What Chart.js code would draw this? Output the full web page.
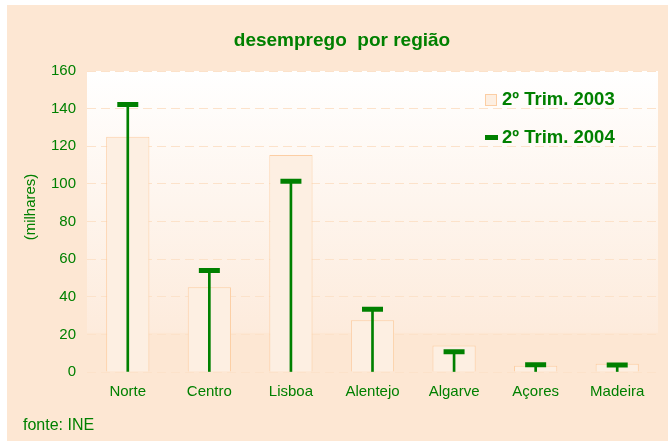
<!DOCTYPE html>
<html>
<head>
<meta charset="utf-8">
<script src="https://cdn.jsdelivr.net/npm/chart.js@4.4.1/dist/chart.umd.min.js"></script>
<style>
html,body{margin:0;padding:0;background:#fff;}
#wrap{width:668px;height:441px;position:relative;}
</style>
</head>
<body>
<div id="wrap"><canvas id="c" width="668" height="441"></canvas></div>
<script>
const categories = ['Norte','Centro','Lisboa','Alentejo','Algarve','Açores','Madeira'];
const trim2003 = [125, 45, 115.3, 27.5, 14.1, 3.3, 4.4];
const trim2004 = [142.2, 54, 101.4, 33.4, 10.8, 3.8, 3.7];
const yTicks = [0, 20, 40, 60, 80, 100, 120, 140, 160];
const seriesNames = ['2º Trim. 2003', '2º Trim. 2004'];
const titleText = 'desemprego  por região';
const yTitle = '(milhares)';
const sourceText = 'fonte: INE';

const GREEN = '#008000';
const PEACH = 'rgb(253,231,211)';
const BAR_FILL = 'rgb(253,239,226)';
const BAR_BORDER = 'rgb(252,206,164)';
const FONT = '"Liberation Sans", Arial, sans-serif';

const decor = {
  id: 'decor',
  beforeDraw(chart) {
    const ctx = chart.ctx;
    const a = chart.chartArea;
    ctx.save();
    ctx.fillStyle = '#fff';
    ctx.fillRect(0, 0, chart.width, chart.height);
    ctx.fillStyle = PEACH;
    ctx.fillRect(7, 5, chart.width - 7, chart.height - 5);
    const bottom = a.top + (a.bottom - a.top) * 0.87;
    const g = ctx.createLinearGradient(0, a.top, 0, bottom);
    g.addColorStop(0, '#ffffff');
    g.addColorStop(1, 'rgb(253,235,220)');
    ctx.fillStyle = g;
    ctx.fillRect(a.left, a.top, a.right - a.left, bottom - a.top);
    ctx.restore();
  },
  afterDraw(chart) {
    const ctx = chart.ctx;
    ctx.save();
    ctx.fillStyle = GREEN;
    ctx.font = 'bold 19px ' + FONT;
    ctx.textAlign = 'center';
    ctx.textBaseline = 'middle';
    ctx.fillText(titleText, 342, 41);
    ctx.save();
    ctx.translate(31, 207);
    ctx.rotate(-Math.PI / 2);
    ctx.font = '15px ' + FONT;
    ctx.fillText(yTitle, 0, 0);
    ctx.restore();
    ctx.font = '16px ' + FONT;
    ctx.textAlign = 'left';
    ctx.fillText(sourceText, 23, 426);
    ctx.fillStyle = BAR_FILL;
    ctx.fillRect(485.5, 94.5, 11, 11);
    ctx.strokeStyle = BAR_BORDER;
    ctx.lineWidth = 1;
    ctx.strokeRect(485.5, 94.5, 11, 11);
    ctx.strokeStyle = GREEN;
    ctx.lineWidth = 5;
    ctx.beginPath();
    ctx.moveTo(485, 137.5);
    ctx.lineTo(498, 137.5);
    ctx.stroke();
    ctx.fillStyle = GREEN;
    ctx.font = 'bold 18.5px ' + FONT;
    ctx.fillText(seriesNames[0], 502, 100);
    ctx.fillText(seriesNames[1], 502, 137.5);
    ctx.restore();
  }
};

new Chart(document.getElementById('c'), {
  data: {
    labels: categories,
    datasets: [
      {
        type: 'line',
        label: seriesNames[1],
        data: trim2004,
        showLine: false,
        pointStyle: 'line',
        pointRadius: 10.5,
        pointHoverRadius: 10.5,
        pointBorderWidth: 5,
        pointHoverBorderWidth: 5,
        pointBorderColor: GREEN,
        pointBackgroundColor: GREEN,
        order: 0
      },
      {
        type: 'bar',
        label: 'stem',
        data: trim2004,
        backgroundColor: GREEN,
        barThickness: 2,
        grouped: false,
        order: 1
      },
      {
        type: 'bar',
        label: seriesNames[0],
        data: trim2003,
        backgroundColor: BAR_FILL,
        borderColor: BAR_BORDER,
        borderWidth: 1,
        categoryPercentage: 1,
        barPercentage: 0.53,
        grouped: false,
        order: 2
      }
    ]
  },
  options: {
    responsive: false,
    animation: false,
    events: [],
    layout: { autoPadding: false, padding: { left: 0, right: 10, top: 71, bottom: 39 } },
    plugins: { legend: { display: false }, title: { display: false }, tooltip: { enabled: false } },
    scales: {
      x: {
        grid: { display: false, drawTicks: false },
        border: { display: false },
        ticks: { color: GREEN, font: { family: FONT, size: 15 }, padding: 11 },
        afterFit(s) { s.height = 30; }
      },
      y: {
        min: 0, max: 160,
        afterBuildTicks(s) { s.ticks = yTicks.map(v => ({ value: v })); },
        grid: { color: 'rgb(252,226,202)', lineWidth: 1, drawTicks: false },
        border: { display: false, dash: [9, 5] },
        ticks: { color: GREEN, font: { family: FONT, size: 15 }, padding: 11 },
        afterFit(s) { s.width = 87; }
      }
    }
  },
  plugins: [decor]
});
</script>
</body>
</html>
